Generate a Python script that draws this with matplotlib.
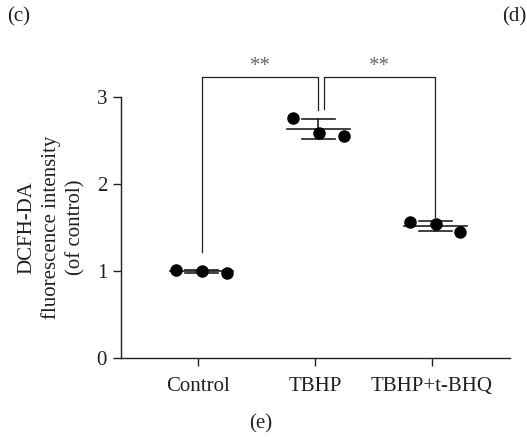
import matplotlib
matplotlib.use("Agg")
import matplotlib.pyplot as plt
import numpy as np

plt.rcParams['font.family'] = ['Liberation Serif', 'DejaVu Serif']

categories = ["Control", "TBHP", "TBHP+t-BHQ"]
control = [1.01, 1.00, 0.975]
tbhp = [2.76, 2.59, 2.55]
tbhp_tbhq = [1.56, 1.54, 1.45]
series = [control, tbhp, tbhp_tbhq]
yticks = [0, 1, 2, 3]
# significance brackets: (from group, to group, start height of left leg, start height of right leg, label)
brackets = [(0, 1, 1.22, 2.85, "**"), (1, 2, 2.86, 1.62, "**")]

ink = "#231f20"
fig = plt.figure(figsize=(5.27, 4.37), dpi=100)
ax = fig.add_axes([0.2296, 0.1808, 0.7381, 0.6968])

pos = np.arange(len(categories))
jitter = [-0.19, 0.035, 0.245]
mean_off = 0.03
for p, vals in zip(pos, series):
    v = np.array(vals)
    m = v.mean()
    sd = v.std(ddof=1)
    c = p + mean_off
    ax.plot([c - 0.27, c + 0.27], [m, m], color=ink, lw=1.2, zorder=2)
    ax.plot([c, c], [m - sd, m + sd], color=ink, lw=1.2, zorder=2)
    ax.plot([c - 0.14, c + 0.14], [m + sd, m + sd], color=ink, lw=1.2, zorder=2)
    ax.plot([c - 0.14, c + 0.14], [m - sd, m - sd], color=ink, lw=1.2, zorder=2)
    ax.plot(p + np.array(jitter), v, 'o', color="black", ms=8, zorder=3, clip_on=False)

top = 3.23
for i, j, hl, hr, lab in brackets:
    xl = pos[i] + (0.035 if i == 0 else 0.08)
    xr = pos[j] + (0.03)
    ax.plot([xl, xl, xr, xr], [hl, top, top, hr], color=ink, lw=0.9,
            clip_on=False, solid_joinstyle='round')
    ax.text((xl + xr) / 2, top + 0.01, lab, ha='center', va='bottom', fontsize=15, color="#666666")

ax.set_xlim(-0.66, 2.67)
ax.set_ylim(0, 3.5)
ax.spines['top'].set_visible(False)
ax.spines['right'].set_visible(False)
ax.spines['left'].set_bounds(0, 3)
for s in ['left', 'bottom']:
    ax.spines[s].set_color(ink)
    ax.spines[s].set_linewidth(1.0)
ax.set_xticks(pos)
ax.set_xticklabels(categories)
ax.set_yticks(yticks)
ax.tick_params(axis='both', length=6, width=1.0, color=ink, labelsize=15, labelcolor=ink, pad=4)
ax.tick_params(axis='x', pad=8)
ax.set_ylabel("DCFH-DA\nfluorescence intensity\n(of control)", fontsize=15, color=ink,
              labelpad=8, linespacing=1.35)
ax.yaxis.label.set_y(1.5 / 3.5)

fig.text(0.013, 0.962, "(c)", fontsize=15, color=ink, va='center', ha='left')
fig.text(0.952, 0.962, "(d)", fontsize=15, color=ink, va='center', ha='left')
fig.text(0.494, 0.031, "(e)", fontsize=15, color=ink, va='center', ha='center')

fig.savefig("out.png", dpi=100)
